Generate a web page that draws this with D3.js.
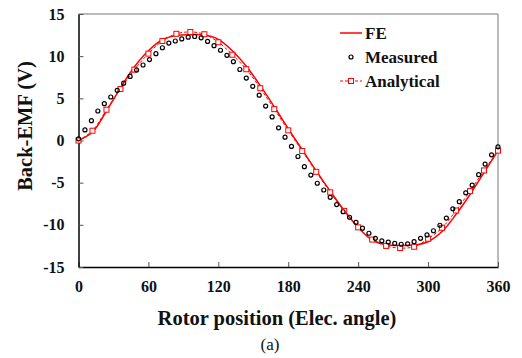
<!DOCTYPE html>
<html>
<head>
<meta charset="utf-8">
<script src="https://cdn.jsdelivr.net/npm/d3@7"></script>
</head>
<body style="margin:0; background:#fff">
<div id="graph"></div>
<script>
const fullwidth = 522;
const fullheight = 358;
const margin = {left: 78.5, top: 14, right: 24, bottom: 91};
const width = fullwidth - margin.left - margin.right;
const height = fullheight - margin.top - margin.bottom;
const FONT = "'Liberation Serif'";

// Axis ticks
const xTicks = [0, 60, 120, 180, 240, 300, 360];
const yTicks = [-15, -10, -5, 0, 5, 10, 15];

// Measured back-EMF, 66 samples evenly over 0..360 deg
const measuredAngle = d3.range(66).map(i => i * 360 / 65);
const measured = [0.2, 1.25, 2.35, 3.5, 4.37, 5.16, 5.95, 6.8, 7.6, 8.36, 8.95, 9.6, 10.3, 11.0,
  11.55, 11.8, 12.05, 12.25, 12.33, 12.18, 11.75, 11.25, 10.7, 10.1, 9.35, 8.42, 7.4, 6.42,
  5.38, 4.08, 2.8, 1.5, 0.4, -0.7, -1.9, -3.1, -4.1, -5.07, -5.87, -6.74, -7.6, -8.45, -9.1,
  -9.7, -10.4, -11.0, -11.6, -11.9, -12.05, -12.2, -12.3, -12.25, -12.0, -11.6, -11.2, -10.7,
  -10.05, -9.2, -8.1, -7.25, -6.2, -5.3, -4.05, -2.8, -1.7, -0.75];

// Analytical, every 12 deg
const analyticalAngle = d3.range(0, 361, 12);
const analytical = [0, 1.16, 3.65, 6.1, 8.4, 10.3, 11.8, 12.65, 12.87, 12.6, 11.65, 10.17, 8.45,
  6.2, 3.72, 1.2, -1.25, -3.72, -6.15, -8.35, -10.3, -11.75, -12.5, -12.75, -12.6, -11.65,
  -10.35, -8.3, -6.0, -3.55, -1.2];

// FE, every 12 deg
const feAngle = d3.range(0, 361, 12);
const fe = [0, 1.0, 3.5, 6.25, 8.75, 10.65, 11.95, 12.45, 12.55, 12.5, 12.0, 10.65, 8.8,
  6.5, 4.0, 1.4, -1.1, -3.6, -6.0, -8.3, -10.3, -11.8, -12.35, -12.45, -12.4, -12.0,
  -10.8, -8.75, -6.4, -3.8, -1.2];

const svg = d3.select("#graph")
  .append("svg")
  .attr("width", fullwidth)
  .attr("height", fullheight);

const x = d3.scaleLinear().domain([0, 360]).range([margin.left, margin.left + width]);
const y = d3.scaleLinear().domain([-15, 15]).range([margin.top + height, margin.top]);

// frame: top and right in grey
svg.append("line")
  .attr("x1", x(0)).attr("x2", x(360))
  .attr("y1", y(15)).attr("y2", y(15))
  .attr("stroke", "#777").attr("stroke-width", 1);
svg.append("line")
  .attr("x1", x(360)).attr("x2", x(360))
  .attr("y1", y(15)).attr("y2", y(-15))
  .attr("stroke", "#777").attr("stroke-width", 1);

// x axis, ticks pointing inward
const xAxis = svg.append("g")
  .attr("transform", "translate(0," + y(-15) + ")")
  .call(d3.axisBottom(x).tickValues(xTicks).tickFormat(d => String(d))
    .tickSizeInner(-5).tickSizeOuter(0).tickPadding(14));
xAxis.select(".domain").attr("stroke", "#000").attr("stroke-width", 1.5);
xAxis.selectAll(".tick line").attr("stroke", "#555");
xAxis.selectAll("text")
  .style("font-family", FONT).style("font-size", "16px").style("font-weight", "bold")
  .attr("fill", "#111");

// y axis
const yAxis = svg.append("g")
  .attr("transform", "translate(" + x(0) + ",0)")
  .call(d3.axisLeft(y).tickValues(yTicks).tickFormat(d => String(d))
    .tickSizeInner(-5).tickSizeOuter(0).tickPadding(14));
yAxis.select(".domain").attr("stroke", "#000").attr("stroke-width", 1.5);
yAxis.selectAll(".tick line").attr("stroke", "#555");
yAxis.selectAll("text")
  .style("font-family", FONT).style("font-size", "16px").style("font-weight", "bold")
  .attr("fill", "#111");

// FE solid line
const feLine = d3.line()
  .x((d, i) => x(feAngle[i]))
  .y(d => y(d))
  .curve(d3.curveCatmullRom);
svg.append("path")
  .datum(fe)
  .attr("fill", "none")
  .attr("stroke", "#ff0000")
  .attr("stroke-width", 1.5)
  .attr("d", feLine);

// Analytical dashed line + squares
const anLine = d3.line()
  .x((d, i) => x(analyticalAngle[i]))
  .y(d => y(d))
  .curve(d3.curveCatmullRom);
svg.append("path")
  .datum(analytical)
  .attr("fill", "none")
  .attr("stroke", "#ff0000")
  .attr("stroke-width", 1)
  .attr("stroke-dasharray", "3,2")
  .attr("d", anLine);
svg.selectAll(".sq")
  .data(analytical)
  .enter().append("rect")
  .attr("class", "sq")
  .attr("x", (d, i) => x(analyticalAngle[i]) - 2.5)
  .attr("y", d => y(d) - 2.5)
  .attr("width", 5).attr("height", 5)
  .attr("fill", "#fff")
  .attr("stroke", "#ff0000")
  .attr("stroke-width", 1);

// Measured circles
svg.selectAll(".meas")
  .data(measured)
  .enter().append("circle")
  .attr("class", "meas")
  .attr("cx", (d, i) => x(measuredAngle[i]))
  .attr("cy", d => y(d))
  .attr("r", 2)
  .attr("fill", "none")
  .attr("stroke", "#000")
  .attr("stroke-width", 1.2);

// Legend
const legend = svg.append("g").attr("class", "legend");
const lx = 340, lw = 22, tx = 365;
legend.append("line").attr("x1", lx).attr("x2", lx + lw).attr("y1", 33).attr("y2", 33)
  .attr("stroke", "#ff0000").attr("stroke-width", 1.5);
legend.append("circle").attr("cx", lx + 11).attr("cy", 57).attr("r", 2)
  .attr("fill", "none").attr("stroke", "#000").attr("stroke-width", 1.2);
legend.append("line").attr("x1", lx).attr("x2", lx + lw).attr("y1", 81).attr("y2", 81)
  .attr("stroke", "#ff0000").attr("stroke-width", 1).attr("stroke-dasharray", "3,2");
legend.append("rect").attr("x", lx + 8.5).attr("y", 78.5).attr("width", 5).attr("height", 5)
  .attr("fill", "#fff").attr("stroke", "#ff0000");
["FE", "Measured", "Analytical"].forEach((t, i) => {
  legend.append("text")
    .attr("x", tx).attr("y", 38.5 + i * 24)
    .style("font-family", FONT).style("font-size", "17px").style("font-weight", "bold")
    .attr("fill", "#111")
    .text(t);
});

// Axis titles
svg.append("text")
  .attr("x", 277).attr("y", 325)
  .attr("text-anchor", "middle")
  .style("font-family", FONT).style("font-size", "20.5px").style("font-weight", "bold")
  .attr("fill", "#111")
  .text("Rotor position (Elec. angle)");
svg.append("text")
  .attr("transform", "translate(32,126) rotate(-90)")
  .attr("text-anchor", "middle")
  .style("font-family", FONT).style("font-size", "20.5px").style("font-weight", "bold")
  .attr("fill", "#111")
  .text("Back-EMF (V)");
svg.append("text")
  .attr("x", 270).attr("y", 350)
  .attr("text-anchor", "middle")
  .style("font-family", FONT).style("font-size", "17px")
  .attr("fill", "#111")
  .text("(a)");
</script>
</body>
</html>
